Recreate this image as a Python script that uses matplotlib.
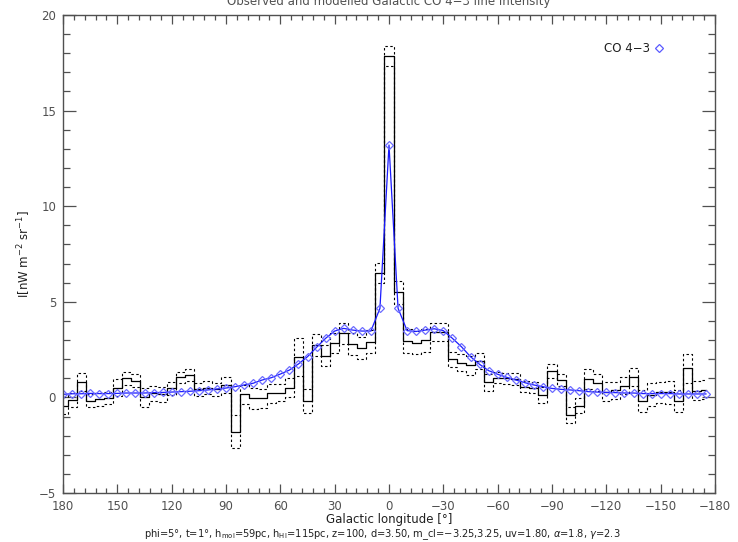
import numpy as np
import matplotlib
matplotlib.use("Agg")
import matplotlib.pyplot as plt
from matplotlib.lines import Line2D

# Galactic longitude grid (deg), one bin per 5 degrees
longitude = np.array([
    180, 175, 170, 165, 160, 155, 150, 145, 140, 135,
    130, 125, 120, 115, 110, 105, 100, 95, 90, 85,
    80, 75, 70, 65, 60, 55, 50, 45, 40, 35,
    30, 25, 20, 15, 10, 5, 0, -5, -10, -15,
    -20, -25, -30, -35, -40, -45, -50, -55, -60, -65,
    -70, -75, -80, -85, -90, -95, -100, -105, -110, -115,
    -120, -125, -130, -135, -140, -145, -150, -155, -160, -165,
    -170, -175])

# observed CO 4-3 intensity (nW m^-2 sr^-1)
observed = np.array([
    -0.43, -0.14, 0.79, -0.17, -0.10, -0.03, 0.51, 1.00, 0.87, 0.00,
    0.21, 0.16, 0.47, 1.05, 1.17, 0.42, 0.51, 0.42, 0.63, -1.79,
    0.16, -0.05, -0.05, 0.21, 0.25, 0.51, 2.10, -0.19, 2.74, 2.17,
    2.83, 3.35, 2.79, 2.57, 2.91, 6.49, 17.86, 5.50, 2.95, 2.86,
    3.00, 3.44, 3.44, 1.99, 1.82, 1.68, 1.92, 0.79, 1.03, 1.00,
    0.96, 0.56, 0.51, 0.13, 1.38, 0.90, -0.92, -0.43, 0.96, 0.77,
    0.30, 0.38, 0.61, 1.05, -0.17, 0.13, 0.26, 0.26, -0.17, 1.52,
    0.35, 0.40])

# 1 sigma uncertainty of the observation
obs_err = np.array([
    0.46, 0.35, 0.47, 0.33, 0.33, 0.30, 0.44, 0.35, 0.35, 0.50,
    0.40, 0.40, 0.32, 0.30, 0.30, 0.33, 0.35, 0.35, 0.42, 0.87,
    0.50, 0.55, 0.50, 0.50, 0.45, 0.50, 1.00, 0.64, 0.55, 0.55,
    0.52, 0.56, 0.57, 0.58, 0.60, 0.52, 0.52, 0.60, 0.62, 0.60,
    0.60, 0.47, 0.47, 0.40, 0.45, 0.50, 0.42, 0.44, 0.30, 0.30,
    0.30, 0.30, 0.30, 0.41, 0.37, 0.30, 0.44, 0.40, 0.50, 0.45,
    0.50, 0.45, 0.45, 0.47, 0.58, 0.60, 0.55, 0.60, 0.58, 0.75,
    0.50, 0.50])

# modelled CO 4-3 intensity
model = np.array([
    0.16, 0.19, 0.19, 0.21, 0.20, 0.20, 0.21, 0.23, 0.23, 0.23,
    0.25, 0.26, 0.28, 0.30, 0.32, 0.35, 0.39, 0.44, 0.49, 0.56,
    0.65, 0.74, 0.91, 1.03, 1.22, 1.43, 1.75, 2.13, 2.62, 3.09,
    3.47, 3.61, 3.52, 3.47, 3.47, 4.66, 13.2, 4.66, 3.49, 3.45,
    3.52, 3.59, 3.49, 3.09, 2.65, 2.13, 1.73, 1.40, 1.21, 1.05,
    0.91, 0.77, 0.65, 0.56, 0.47, 0.42, 0.39, 0.35, 0.30, 0.28,
    0.26, 0.25, 0.23, 0.23, 0.20, 0.20, 0.20, 0.20, 0.18, 0.18,
    0.18, 0.18])

xticks = [180, 150, 120, 90, 60, 30, 0, -30, -60, -90, -120, -150, -180]
xticklabels = ["180", "150", "120", "90", "60", "30", "0", "\u221230", "\u221260",
               "\u221290", "\u2212120", "\u2212150", "\u2212180"]
yticks = [-5, 0, 5, 10, 15, 20]
yticklabels = ["\u22125", "0", "5", "10", "15", "20"]

grey = "#505050"
fs = 8.5

fig = plt.figure(figsize=(7.38, 5.42), dpi=100)
ax = fig.add_axes([63 / 738, 49 / 542, 652 / 738, 478 / 542])

# observation as histogram with dotted error envelope
ax.step(longitude, observed, where="mid", color="black", lw=0.9)
ax.step(longitude, observed + obs_err, where="mid", color="black", lw=0.8,
        linestyle=(0, (2.2, 2.2)))
ax.step(longitude, observed - obs_err, where="mid", color="black", lw=0.8,
        linestyle=(0, (2.2, 2.2)))

# model
ax.plot(longitude, model, color="#1a1aff", lw=0.9, marker="D", markersize=3.6,
        markerfacecolor="none", markeredgecolor="#6b6bff", markeredgewidth=0.9)

ax.set_xlim(180, -180)
ax.set_ylim(-5, 20)
ax.set_xticks(xticks)
ax.set_xticklabels(xticklabels)
ax.set_xticks(np.arange(180, -181, -6), minor=True)
ax.set_yticks(yticks)
ax.set_yticklabels(yticklabels)
ax.set_yticks(np.arange(-5, 21, 1), minor=True)

ax.tick_params(axis="both", which="both", direction="in", top=True, right=True,
               color=grey, labelcolor=grey, labelsize=fs, width=0.9)
ax.tick_params(axis="x", which="major", length=6.5, pad=5)
ax.tick_params(axis="x", which="minor", length=3.3)
ax.tick_params(axis="y", which="major", length=9.4, pad=5)
ax.tick_params(axis="y", which="minor", length=4.7)
for s in ax.spines.values():
    s.set_color(grey)
    s.set_linewidth(1.0)

# legend, IDL style: label first then symbol
h = Line2D([], [], ls="none", marker="D", markersize=3.6, markerfacecolor="none",
           markeredgecolor="#5a5aff", markeredgewidth=0.9)
ax.legend([h], ["CO 4\u22123"], markerfirst=False, frameon=False, loc="upper right",
          bbox_to_anchor=(0.936, 0.965), handlelength=0.6, handletextpad=0.5,
          fontsize=fs, labelcolor="#202020")

ax.set_ylabel(r"I[nW m$^{-2}$ sr$^{-1}$]", fontsize=fs, color="#202020", labelpad=4)

fig.text(389 / 738, 1 - 2 / 542, "Observed and modelled Galactic CO 4\u22123 line intensity",
         ha="center", va="center", fontsize=fs, color=grey)
fig.text(389 / 738, 1 - 520 / 542, "Galactic longitude [\u00b0]",
         ha="center", va="center", fontsize=fs, color="#202020")
fig.text(382 / 738, 1 - 535 / 542,
         r"phi=5$\degree$, t=1$\degree$, h$_{\rm mol}$=59pc, h$_{\rm HI}$=115pc, z=100, d=3.50, "
         "m_cl=\u22123.25,3.25, uv=1.80, $\\alpha$=1.8, $\\gamma$=2.3",
         ha="center", va="center", fontsize=7.1, color="#202020")

plt.savefig("out.png", dpi=100)
